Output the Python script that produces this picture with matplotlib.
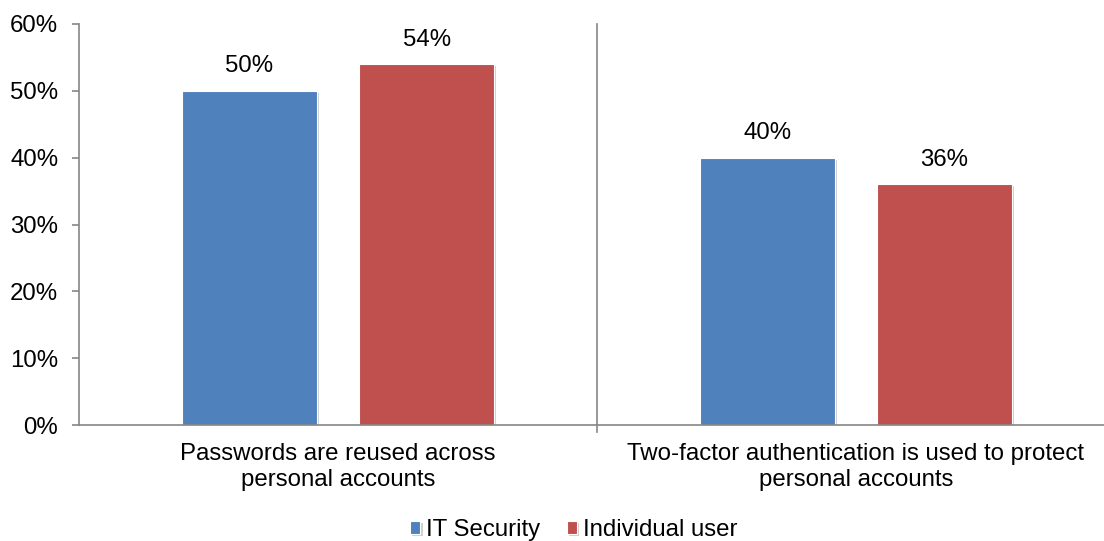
import numpy as np
import matplotlib.pyplot as plt
import matplotlib.patheffects as pe

plt.rcParams['font.family'] = ['Liberation Sans', 'DejaVu Sans']

# === Dados
categories = ['Passwords are reused across\npersonal accounts',
              'Two-factor authentication is used to protect\npersonal accounts']
series = ['IT Security', 'Individual user']
it_security = [50, 40]
individual_user = [54, 36]
colors = ['#4F81BD', '#C0504D']
axis_gray = '#868686'
fs = 17.3

fig = plt.figure(figsize=(11.04, 5.41), dpi=100)
ax = fig.add_axes([79 / 1104, 1 - 425 / 541, (1115 - 79) / 1104, (425 - 24) / 541])

x = np.arange(len(categories))
width = 0.26
offset = 0.171
shadow = [pe.SimplePatchShadow(offset=(1.5, -1.5), shadow_rgbFace='#a0a0a0', alpha=0.5), pe.Normal()]

for vals, off, col, name in zip([it_security, individual_user], [-offset, offset], colors, series):
    bars = ax.bar(x + off, vals, width, color=col, label=name,
                  edgecolor='white', linewidth=0.8, path_effects=shadow)
    for b, v in zip(bars, vals):
        ax.text(b.get_x() + b.get_width() / 2, v + 2.0, f'{v}%',
                ha='center', va='bottom', fontsize=fs)

ax.set_xlim(-0.5, 1.5)
ax.set_ylim(0, 60)
ax.set_yticks(range(0, 61, 10))
ax.set_yticklabels([f'{t}%' for t in range(0, 61, 10)], fontsize=fs)
ax.set_xticks(x)
ax.set_xticklabels(categories, fontsize=fs, linespacing=1.25)
ax.tick_params(axis='x', length=0, pad=13)
ax.tick_params(axis='y', length=5, color=axis_gray, width=1.2, pad=10)

# separador entre grupos
ax.axvline(0.5, color=axis_gray, linewidth=1.2, clip_on=False)
ax.plot([0.5, 0.5], [0, -1.1], color=axis_gray, linewidth=1.2, clip_on=False)

for s in ['top', 'right']:
    ax.spines[s].set_visible(False)
for s in ['left', 'bottom']:
    ax.spines[s].set_color(axis_gray)
    ax.spines[s].set_linewidth(1.2)

ax.legend(loc='center', bbox_to_anchor=(574 / 1104, 1 - 530 / 541),
          bbox_transform=fig.transFigure, ncol=2, frameon=False,
          fontsize=fs, handlelength=0.42, handleheight=0.42,
          handletextpad=0.25, columnspacing=1.1)

fig.savefig('out.png', dpi=100)
